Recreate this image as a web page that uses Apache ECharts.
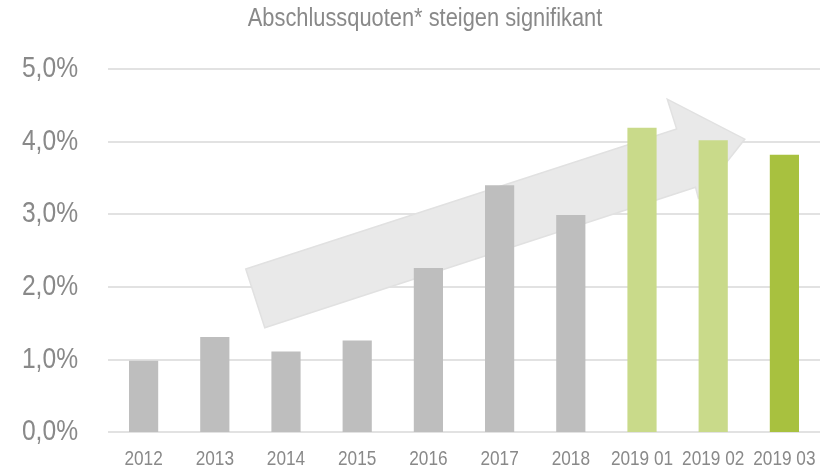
<!DOCTYPE html>
<html>
<head>
<meta charset="utf-8">
<script src="https://cdn.jsdelivr.net/npm/echarts@6/dist/echarts.min.js"></script>
<style>
  html, body { margin: 0; padding: 0; background: #ffffff; }
  #chart { width: 830px; height: 470px; }
</style>
</head>
<body>
<div id="chart"></div>
<script>
// Completion rates per period (percent)
const categories = ['2012', '2013', '2014', '2015', '2016', '2017', '2018', '2019 01', '2019 02', '2019 03'];
const rates = [0.98, 1.31, 1.11, 1.26, 2.26, 3.40, 2.99, 4.19, 4.02, 3.82];
const barColors = ['#bebebe', '#bebebe', '#bebebe', '#bebebe', '#bebebe', '#bebebe', '#bebebe', '#c9da8a', '#c9da8a', '#a8c13f'];
const yTicks = [0, 1, 2, 3, 4, 5];
const titleText = 'Abschlussquoten* steigen signifikant';

// Trend arrow outline in (category position, value) space
const arrowShape = [
  [1.435, 2.244], [7.486, 4.175], [7.355, 4.584], [8.444, 4.033],
  [7.791, 3.221], [7.752, 3.372], [1.702, 1.436]
];

// Narrow sans look: regular sans squeezed horizontally
const FONT = '"Liberation Sans", Arial, sans-serif';
const NARROW = 0.82;
const TEXT = '#898989';

const chart = echarts.init(document.getElementById('chart'));

chart.setOption({
  animation: false,
  grid: { left: 108, right: 10, top: 69, bottom: 38, containLabel: false },
  xAxis: {
    type: 'category',
    data: categories,
    axisLine: { show: false },
    axisTick: { show: false },
    axisLabel: { show: false }
  },
  yAxis: {
    type: 'value',
    min: yTicks[0],
    max: yTicks[yTicks.length - 1],
    interval: 1,
    axisLine: { show: false },
    axisTick: { show: false },
    splitLine: { lineStyle: { color: '#e2e2e2', width: 2 } },
    axisLabel: { show: false }
  },
  series: [{
    type: 'bar',
    z: 3,
    barWidth: '41%',
    data: rates.map((v, i) => ({ value: v, itemStyle: { color: barColors[i] } }))
  }]
});

function narrowText(text, x, y, size, align, scale) {
  return {
    type: 'text',
    x: x, y: y,
    scaleX: scale || NARROW,
    z: 5,
    silent: true,
    style: {
      text: text,
      fontFamily: FONT,
      fontSize: size,
      fill: TEXT,
      align: align, textAlign: align,
      verticalAlign: 'middle', textVerticalAlign: 'middle'
    }
  };
}

function drawOverlay() {
  const n = categories.length;
  const p0 = chart.convertToPixel({ gridIndex: 0 }, [0, 0]);
  const p1 = chart.convertToPixel({ gridIndex: 0 }, [n - 1, 5]);
  const pts = arrowShape.map(([c, v]) => [
    p0[0] + (p1[0] - p0[0]) * c / (n - 1),
    p0[1] + (p1[1] - p0[1]) * v / 5
  ]);

  const elements = [{
    type: 'polygon',
    z: 1,
    shape: { points: pts },
    style: { fill: '#e9e9e9', stroke: '#e1e1e1', lineWidth: 1.5 }
  }];

  // category labels under the axis
  categories.forEach((c, i) => {
    const p = chart.convertToPixel({ gridIndex: 0 }, [i, 0]);
    elements.push(narrowText(c, p[0], p[1] + 27, 21, 'center'));
  });

  // percentage labels left of the plot
  const gridLeft = chart.convertToPixel({ gridIndex: 0 }, [0, 0])[0]
    - (p1[0] - p0[0]) / (n - 1) / 2;
  yTicks.forEach(t => {
    const p = chart.convertToPixel({ gridIndex: 0 }, [0, t]);
    elements.push(narrowText(t.toFixed(1).replace('.', ',') + '%', gridLeft - 30, p[1], 30, 'right'));
  });

  elements.push(narrowText(titleText, 425, 19, 26, 'center', 0.84));

  chart.setOption({ graphic: elements });
}
drawOverlay();
</script>
</body>
</html>
